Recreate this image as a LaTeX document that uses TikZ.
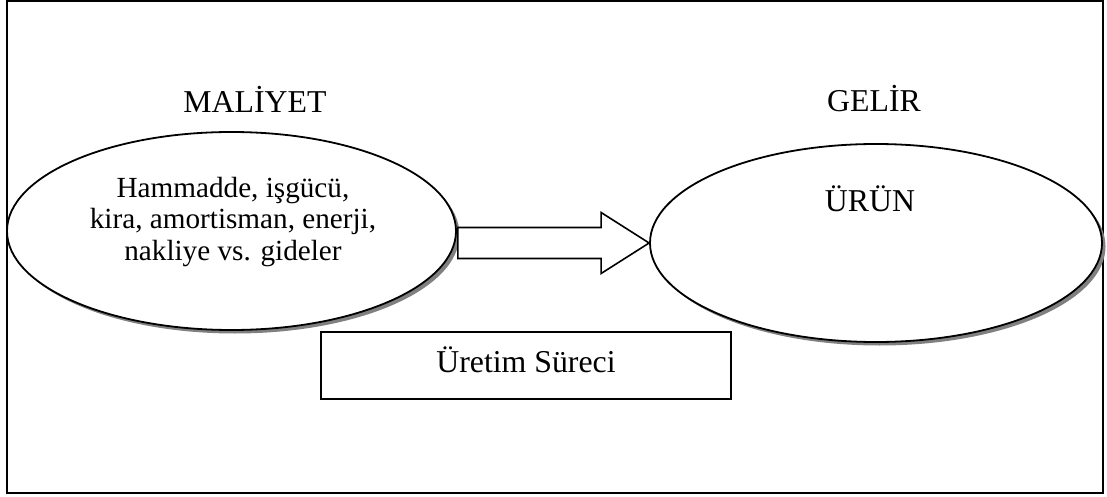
\documentclass[tikz,border=0pt]{standalone}
\usepackage{fontspec}
\setmainfont{Liberation Serif}
\usetikzlibrary{calc,shapes.geometric}
\definecolor{shadowgray}{HTML}{808080}
\begin{document}
\begin{tikzpicture}[x=1pt,y=-1pt,
  bubble/.style={ellipse, draw=black, line width=1.8pt, fill=white, inner sep=0pt},
  bubbleshadow/.style={ellipse, fill=shadowgray, inner sep=0pt},
  bigtext/.style={font=\fontsize{31.8}{38}\selectfont},
  celltext/.style={font=\fontsize{29.2}{31.5}\selectfont, align=center},
  blockarrow/.style={draw=black, line width=1.6pt, fill=white, line join=miter},
  procbox/.style={draw=black, line width=1.5pt, fill=white, inner sep=0pt,
    minimum width=410, minimum height=67, text height=22pt, text depth=9pt}]
\useasboundingbox (0,0) rectangle (1107,497);
% outer frame
\draw[line width=2pt] (7,1.5) rectangle (1102.5,492.5);

% drop shadows of the two ellipses
\node[bubbleshadow, minimum width=449, minimum height=198] at (235,234.5) {};
\node[bubbleshadow, minimum width=452, minimum height=198] at (879.5,246.5) {};

% cost and revenue ellipses
\node[bubble, minimum width=449, minimum height=198] (L) at (231.5,231) {};
\node[bubble, minimum width=452, minimum height=198] (R) at (876,243) {};

% headings
\node[bigtext, anchor=base] (cost) at (255,113) {MALİYET};
\node[bigtext, anchor=base] (income) at (874,112) {GELİR};

% ellipse contents
\node[celltext] (costs) at (233,222) {Hammadde, işgücü,\\kira, amortisman, enerji,\\nakliye vs. gideler};
\node[bigtext, anchor=base] (product) at (870,211) {ÜRÜN};

% block arrow from costs to product
\draw[blockarrow] let \p1=(L.east), \p2=(R.west) in
  (\x1+1pt,\y2+15.5pt) -- (\x2-48pt,\y2+15.5pt) -- (\x2-48pt,\y2+30.5pt) -- (\p2)
  -- (\x2-48pt,\y2-30.5pt) -- (\x2-48pt,\y2-15.5pt) -- (\x1+1pt,\y2-15.5pt) -- cycle;

% process box
\node[procbox, bigtext] (process) at (526,365.5) {Üretim Süreci};
\end{tikzpicture}
\end{document}
